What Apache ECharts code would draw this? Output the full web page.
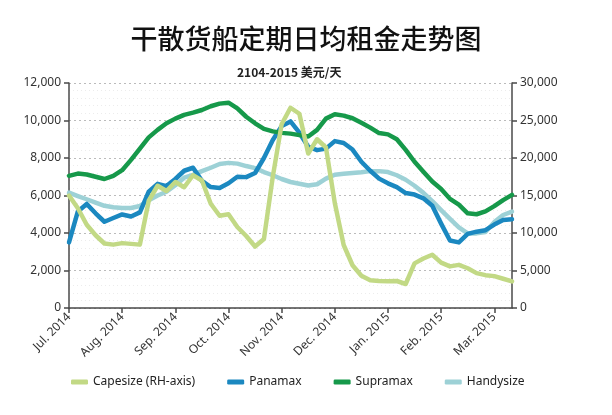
<!DOCTYPE html>
<html>
<head>
<meta charset="utf-8">
<script src="https://cdn.jsdelivr.net/npm/echarts@6/dist/echarts.min.js"></script>
<style>
html, body { margin: 0; padding: 0; background: #fff; }
#chart { width: 612px; height: 415px; }
</style>
</head>
<body>
<div id="chart"></div>
<script>
// months shown on the x axis, data sampled about every 5 days
var months = ['2014-07', '2014-08', '2014-09', '2014-10', '2014-11', '2014-12', '2015-01', '2015-02', '2015-03'];
var monthLabels = ['Jul. 2014', 'Aug. 2014', 'Sep. 2014', 'Oct. 2014', 'Nov. 2014', 'Dec. 2014', 'Jan. 2015', 'Feb. 2015', 'Mar. 2015'];
var days = ['01', '06', '11', '16', '21', '26'];

var dates = [];
for (var m = 0; m < months.length; m++) {
    for (var d = 0; d < days.length; d++) {
        dates.push(months[m] + '-' + days[d]);
        if (m == months.length - 1 && d == 2) break;
    }
}

var leftTicks = [0, 2000, 4000, 6000, 8000, 10000, 12000];
var rightTicks = [0, 5000, 10000, 15000, 20000, 25000, 30000];

// 美元/天
var capesize = [15000, 13300, 11100, 9700, 8600, 8450, 8650, 8550, 8450, 14300,
    16300, 15600, 16800, 16100, 17700, 17000, 13900, 12300, 12500, 10800,
    9600, 8200, 9200, 17500, 24500, 26700, 25900, 20600, 22500, 21400,
    14000, 8400, 5700, 4300, 3700, 3600, 3560, 3600, 3200, 5950,
    6600, 7100, 6050, 5550, 5750, 5300, 4650, 4380, 4250, 3900, 3550];
var panamax = [3500, 5150, 5550, 5050, 4600, 4800, 4990, 4880, 5100, 6200,
    6620, 6500, 6880, 7320, 7480, 6780, 6450, 6400, 6650, 7000,
    6980, 7200, 8000, 8960, 9700, 9950, 9350, 8600, 8420, 8500,
    8900, 8800, 8450, 7800, 7320, 6900, 6650, 6450, 6130, 6050,
    5850, 5450, 4500, 3600, 3500, 3950, 4070, 4150, 4450, 4690, 4730];
var supramax = [7050, 7170, 7120, 7000, 6880, 7050, 7350, 7900, 8500, 9100,
    9500, 9850, 10100, 10300, 10420, 10560, 10760, 10900, 10950, 10650,
    10200, 9850, 9550, 9420, 9340, 9300, 9220, 9150, 9500, 10100,
    10330, 10260, 10120, 9880, 9620, 9330, 9260, 9000, 8430, 7800,
    7270, 6750, 6350, 5820, 5510, 5050, 5000, 5150, 5430, 5750, 6030];
var handysize = [6150, 5970, 5800, 5620, 5450, 5370, 5330, 5330, 5440, 5740,
    6000, 6200, 6550, 6950, 7100, 7300, 7480, 7680, 7740, 7700,
    7570, 7460, 7250, 7080, 6880, 6720, 6630, 6530, 6600, 6900,
    7110, 7160, 7200, 7240, 7300, 7300, 7250, 7080, 6840, 6520,
    6140, 5700, 5220, 4750, 4300, 3980, 3980, 4050, 4580, 4960, 5140];

var font = 'Noto Sans';
var axisColor = '#4a4a4a';

function lineSeries(name, data, color, yIndex) {
    return {
        name: name,
        type: 'line',
        yAxisIndex: yIndex,
        data: data,
        symbol: 'none',
        smooth: false,
        lineStyle: { color: color, width: 4.5, cap: 'round', join: 'round' },
        itemStyle: { color: color }
    };
}

var option = {
    animation: false,
    backgroundColor: '#fff',
    title: [{
        text: '干散货船定期日均租金走势图',
        left: 'center',
        top: 20,
        textStyle: { fontFamily: 'Noto Sans CJK SC', fontSize: 27, fontWeight: 500, color: '#111' }
    }, {
        text: '2104-2015 美元/天',
        left: 232,
        top: 61,
        textStyle: { fontFamily: 'Noto Sans CJK SC', fontSize: 12, fontWeight: 'bold', color: '#222' }
    }],
    legend: {
        left: 66,
        top: 371,
        icon: 'roundRect',
        itemWidth: 17,
        itemHeight: 5,
        itemGap: 32,
        textStyle: { fontFamily: font, fontSize: 12, color: '#222' },
        data: ['Capesize (RH-axis)', 'Panamax', 'Supramax', 'Handysize']
    },
    grid: { left: 69, right: 100, top: 83, bottom: 107 },
    xAxis: {
        type: 'category',
        data: dates,
        boundaryGap: false,
        axisLine: { lineStyle: { color: axisColor, width: 1.5 } },
        axisTick: { interval: 5, length: 5, lineStyle: { color: axisColor, width: 1.5 } },
        axisLabel: {
            interval: 5,
            rotate: 45,
            margin: 7,
            fontFamily: font,
            fontSize: 12,
            color: '#333',
            formatter: function (v) {
                var idx = months.indexOf(v.slice(0, 7));
                return monthLabels[idx];
            }
        },
        splitLine: { show: false }
    },
    yAxis: [{
        type: 'value',
        min: leftTicks[0],
        max: leftTicks[leftTicks.length - 1],
        interval: 2000,
        axisLine: { show: true, lineStyle: { color: axisColor, width: 1.5 } },
        axisTick: { show: true, length: 5, lineStyle: { color: axisColor, width: 1.5 } },
        axisLabel: {
            margin: 8,
            fontFamily: font,
            fontSize: 12,
            color: '#333',
            formatter: function (v) { return v.toLocaleString('en-US'); }
        },
        splitLine: { show: true, lineStyle: { color: '#bbb', type: [2, 3], width: 1 } },
        minorTick: { show: false, splitNumber: 5 },
        minorSplitLine: { show: true, lineStyle: { color: '#ececec', type: [1, 3], width: 1 } }
    }, {
        type: 'value',
        min: rightTicks[0],
        max: rightTicks[rightTicks.length - 1],
        interval: 5000,
        position: 'right',
        axisLine: { show: true, lineStyle: { color: axisColor, width: 1.5 } },
        axisTick: { show: true, length: 5, lineStyle: { color: axisColor, width: 1.5 } },
        axisLabel: {
            margin: 8,
            fontFamily: font,
            fontSize: 12,
            color: '#333',
            formatter: function (v) { return v.toLocaleString('en-US'); }
        },
        splitLine: { show: false }
    }],
    series: [
        lineSeries('Handysize', handysize, '#9dd1d6', 0),
        lineSeries('Panamax', panamax, '#1b88c0', 0),
        lineSeries('Supramax', supramax, '#16994a', 0),
        lineSeries('Capesize (RH-axis)', capesize, '#c2d985', 1)
    ]
};

var chart = echarts.init(document.getElementById('chart'));
chart.setOption(option);
</script>
</body>
</html>
